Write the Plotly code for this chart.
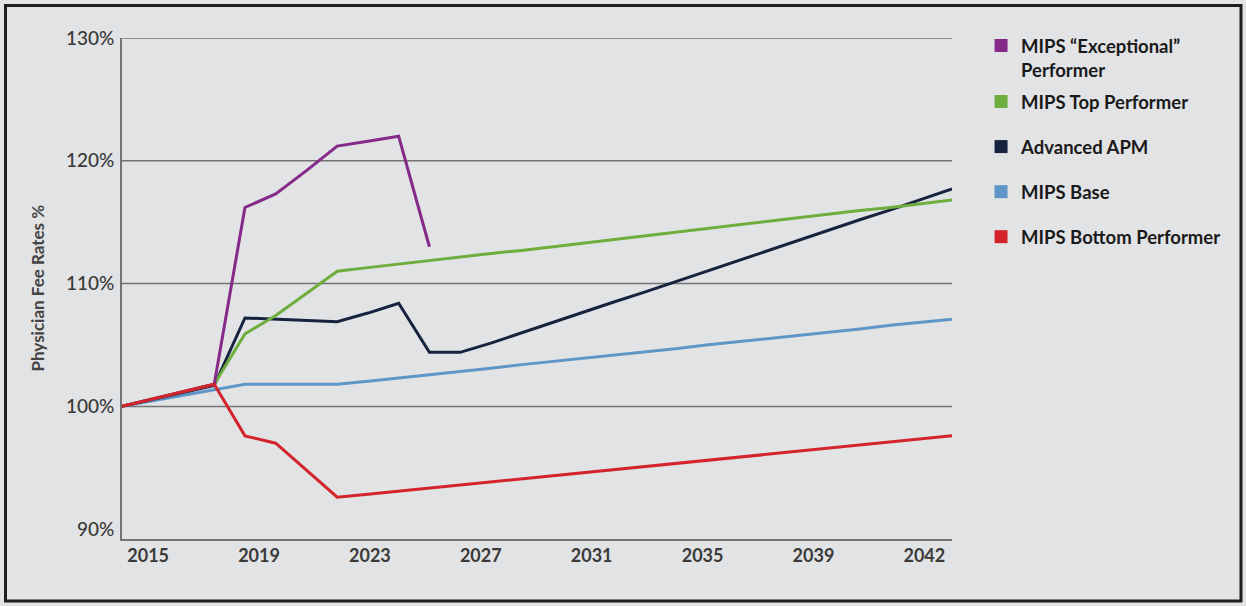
import plotly.graph_objects as go
import numpy as np

years = list(range(2015, 2043))

exceptional = [100.0, 100.6, 101.2, 101.8, 116.2, 117.3, 119.2, 121.2, 121.6, 122.0, 113.0] + [None] * 17
top = [100.0, 100.6, 101.2, 101.8, 105.9, 107.4, 109.2, 111.0, 111.3, 111.6, 111.9, 112.15,
       112.45, 112.7, 113.0, 113.3, 113.6, 113.9, 114.2, 114.5, 114.8, 115.05, 115.35, 115.65,
       115.95, 116.2, 116.5, 116.8]
apm = [100.0, 100.55, 101.1, 101.7, 107.2, 107.1, 107.0, 106.9, 107.6, 108.4, 104.4, 104.4,
       105.15, 106.0, 106.8, 107.65, 108.5, 109.3, 110.15, 111.0, 111.8, 112.65, 113.5, 114.35,
       115.2, 116.0, 116.85, 117.7]
base = [100.0, 100.45, 100.9, 101.3, 101.8, 101.8, 101.8, 101.8, 102.05, 102.3, 102.6, 102.85,
        103.1, 103.4, 103.65, 103.9, 104.2, 104.45, 104.7, 105.0, 105.25, 105.5, 105.8, 106.05,
        106.3, 106.6, 106.85, 107.1]
bottom = [100.0, 100.6, 101.2, 101.8, 97.6, 97.0, 94.8, 92.6, 92.85, 93.1, 93.35, 93.6,
          93.85, 94.1, 94.35, 94.6, 94.85, 95.1, 95.4, 95.65, 95.9, 96.15, 96.4, 96.65,
          96.9, 97.15, 97.4, 97.6]

series_names = ['MIPS \u201cExceptional\u201d<br>Performer', 'MIPS Top Performer', 'Advanced APM',
                'MIPS Base', 'MIPS Bottom Performer']
series_values = [exceptional, top, apm, base, bottom]
colors = ['#862A89', '#6DAE3F', '#16233F', '#5E97C7', '#D3242B']

x_tick_labels = ['2015', '2019', '2023', '2027', '2031', '2035', '2039', '2042']
x_tick_pos = np.linspace(2015.85, 2041.1, len(x_tick_labels))
y_ticks = [90, 100, 110, 120, 130]
y_tick_labels = ['90%', '100%', '110%', '120%', '130%']
grid_vals = [100, 110, 120, 130]

fig = go.Figure()

draw_order = [3, 2, 1, 0, 4]
for i in draw_order:
    fig.add_trace(go.Scatter(x=years, y=series_values[i], mode='lines',
                             line=dict(color=colors[i], width=3),
                             showlegend=False, hoverinfo='skip'))

for i, name in enumerate(series_names):
    fig.add_trace(go.Scatter(x=[None], y=[None], mode='markers', name=name,
                             marker=dict(symbol='square', size=13, color=colors[i]),
                             legendgroup=str(i), legendrank=i + 1,
                             legend='legend' if i == 0 else 'legend2'))

for g in grid_vals:
    fig.add_shape(type='line', xref='paper', x0=0, x1=1, yref='y', y0=g, y1=g,
                  line=dict(color='#747474', width=1.5), layer='below')

# outer frame
fig.add_shape(type='rect', xref='paper', yref='paper',
              x0=(5.5 - 122) / 830, x1=(1241 - 122) / 830,
              y0=(539 - 601) / 501, y1=(539 - 5.5) / 501,
              line=dict(color='#1e1e1e', width=3), fillcolor='rgba(0,0,0,0)')

fig.add_annotation(text='Physician Fee Rates %', xref='paper', yref='paper',
                   x=(37 - 122) / 830, y=0.5, xanchor='center', yanchor='middle',
                   textangle=-90, showarrow=False,
                   font=dict(family='Lato', size=17, color='#444444', weight='bold'))

legend_style = dict(x=1.035, xanchor='left', yanchor='top', valign='top',
                    bgcolor='rgba(0,0,0,0)', tracegroupgap=18, traceorder='grouped',
                    font=dict(family='Lato', size=18.5, color='#1a1a1a', weight='bold'))

fig.update_layout(
    width=1246, height=606,
    margin=dict(l=122, r=294, t=38, b=67),
    paper_bgcolor='#E2E3E5', plot_bgcolor='#E2E3E5',
    font=dict(family='Lato', color='#333333'),
    xaxis=dict(range=[2015, 2042], tickvals=x_tick_pos, ticktext=x_tick_labels,
               showgrid=False, zeroline=False, showline=True, linecolor='#747474', linewidth=1.5,
               ticks='', tickfont=dict(family='Lato', size=18, color='#3a3a3a', weight='bold')),
    yaxis=dict(range=[89.2, 130], tickvals=y_ticks, ticktext=y_tick_labels,
               showgrid=False, zeroline=False, showline=True, linecolor='#747474', linewidth=1.5,
               ticks='', ticklabelstandoff=2,
               tickfont=dict(family='Lato', size=19, color='#383838', weight=500)),
    legend=dict(y=(539 - 27) / 501, **legend_style),
    legend2=dict(y=(539 - 83) / 501, **legend_style),
    showlegend=True,
)

fig.write_html('out.html', post_script="document.body.style.margin='0';",
               config={'displayModeBar': False})
